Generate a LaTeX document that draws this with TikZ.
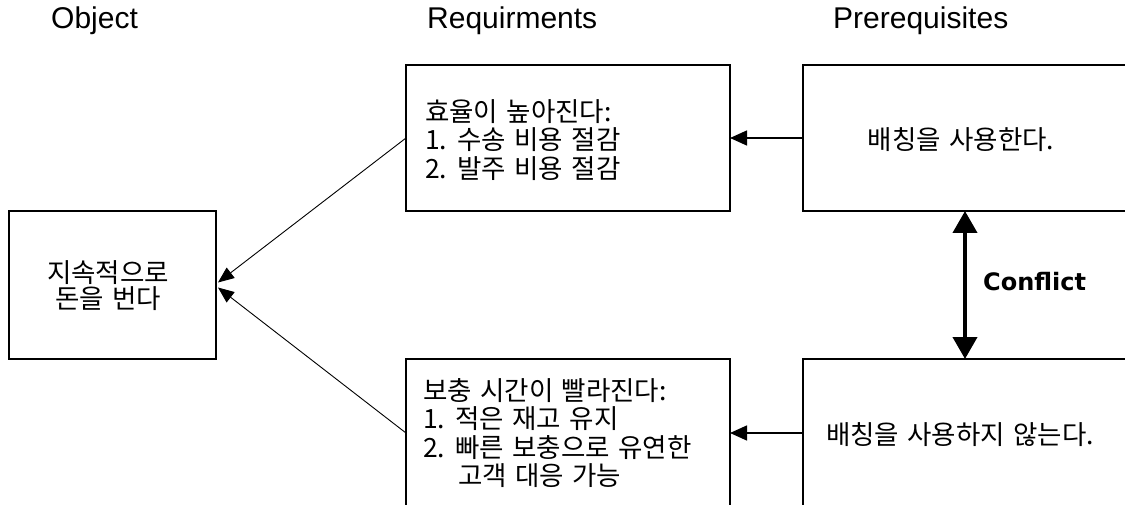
\documentclass[tikz,border=0pt]{standalone}
\usepackage{fontspec}
\setmainfont{Liberation Sans}
\newfontfamily\kr[WordSpace=1.4]{Noto Sans CJK KR}
\newfontfamily\dv{DejaVu Sans}
\usetikzlibrary{arrows.meta,calc}
\begin{document}
\begin{tikzpicture}[x=1pt,y=-1pt,
  box/.style={draw, line width=1.5pt, inner sep=0pt, outer sep=0pt},
  krtext/.style={inner sep=0pt, font=\kr\fontsize{26.5}{28.5}\selectfont},
  header/.style={anchor=base west, inner sep=0pt, font=\fontsize{30}{34}\selectfont},
  harrow/.style={line width=1.5pt, -{Triangle[length=17pt,width=15pt]}},
  darrow/.style={line width=0.9pt, -{Triangle[length=16pt,width=13pt]}},
  carrow/.style={line width=4pt, {Triangle[length=22pt,width=24pt]}-{Triangle[length=22pt,width=24pt]}}]
\useasboundingbox (0,0) rectangle (1125,505);
\clip (0,0) rectangle (1125,505);
\fill[white] (0,0) rectangle (1125,505);

% headers
\node[header] (h1) at (51,29) {Object};
\node[header] (h2) at (427,29) {Requirments};
\node[header] (h3) at (833,29) {Prerequisites};

% boxes
\node[box, minimum width=207pt, minimum height=148pt] (obj) at (112.5,285) {};
\node[box, minimum width=324pt, minimum height=146pt] (req1) at (568,138) {};
\node[box, minimum width=324pt, minimum height=148pt] (req2) at (568,433) {};
\node[box, minimum width=332pt, minimum height=146pt] (pre1) at (969,138) {};
\node[box, minimum width=332pt, minimum height=148pt] (pre2) at (969,433) {};

% texts
\node[krtext, align=center, font=\kr\fontsize{26.5}{26}\selectfont] (objt) at (108,286) {지속적으로\\돈을 번다};
\node[krtext, align=left, anchor=west] (req1t) at (425,140) {효율이 높아진다:\\1. 수송 비용 절감\\2. 발주 비용 절감};
\node[krtext, align=left, anchor=west] (req2t) at (423,433) {보충 시간이 빨라진다:\\1. 적은 재고 유지\\2. 빠른 보충으로 유연한\\\hspace*{35pt}고객 대응 가능};
\node[krtext] (pre1t) at (961,140) {배칭을 사용한다.};
\node[krtext] (pre2t) at (960,435) {배칭을 사용하지 않는다.};

% connectors
\draw[harrow] (pre1.west) -- (req1.east);
\draw[harrow] (pre2.west) -- (req2.east);
\draw[darrow] (req1.west) -- ($(obj.east)+(2,-2.5)$);
\draw[darrow] (req2.west) -- ($(obj.east)+(2,2.5)$);
\draw[carrow] ($(pre1.south)+(-4,0)$) -- ($(pre2.north)+(-4,0)$);
\node[anchor=west, inner sep=0pt, font=\dv\bfseries\fontsize{24}{28}\selectfont] (cl) at (983,282) {Conflict};
\end{tikzpicture}
\end{document}
